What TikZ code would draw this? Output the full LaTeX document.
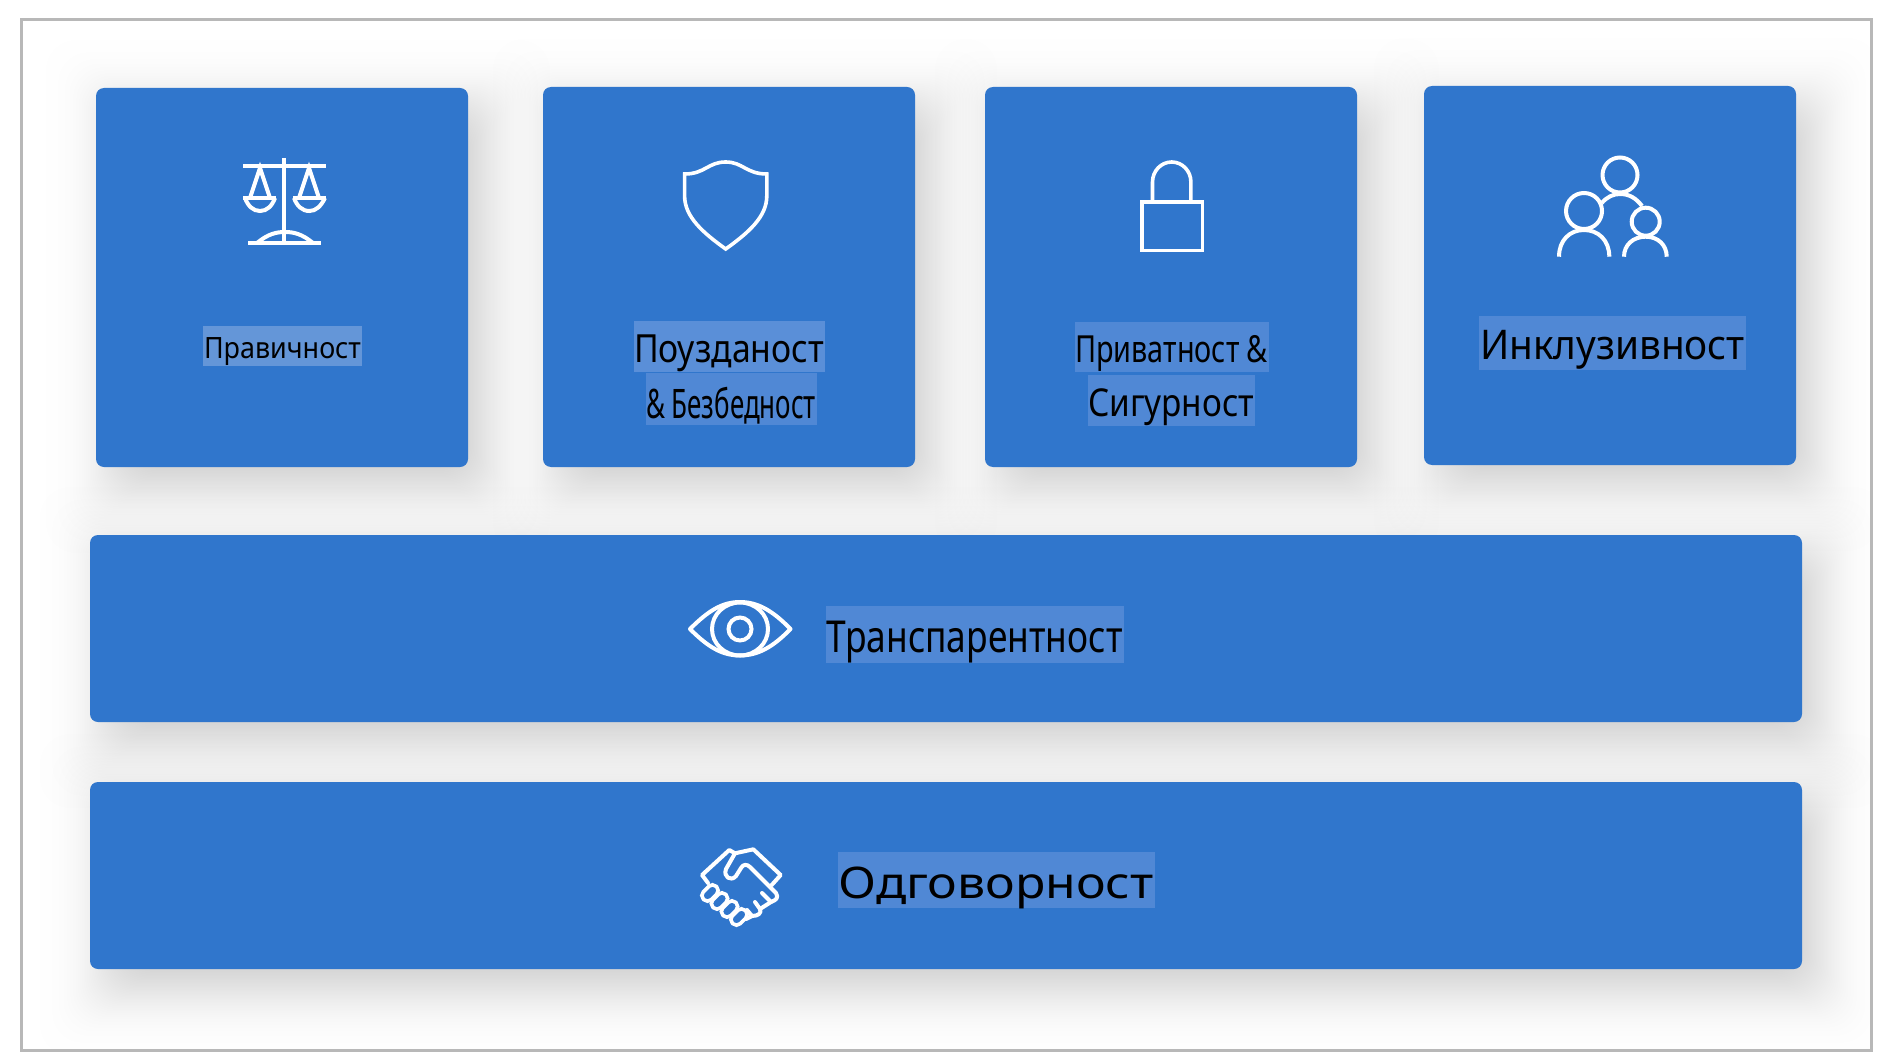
\documentclass[tikz,border=0pt]{standalone}
\usepackage{fontspec}
\usepackage{graphicx}
\setmainfont{Noto Sans}
\newdimen\pxu \pxu=0.02cm
\definecolor{cardblue}{HTML}{3076CC}
\definecolor{frameg}{HTML}{B8B8B8}
\definecolor{hlA}{HTML}{6496D8}
\definecolor{hlB}{HTML}{5A8FD8}
\definecolor{hlC}{HTML}{5088D5}
\tikzset{
  cardbox/.style={fill=cardblue,draw=none,rounded corners=8\pxu,inner sep=0pt},
  icon/.style={draw=white,line width=4\pxu,fill=none,line cap=butt,line join=miter},
  iconthin/.style={icon,line width=3.6\pxu},
  iconround/.style={icon,line join=round,line cap=round},
  labeltext/.style={inner sep=0pt,text=black},
}
% soft shadow: stacked translucent rounded rectangles at Gaussian quantiles
\newcommand{\softshadow}[4]{%
  \foreach \e in {66,53.6,47,42.4,38.7,35.6,32.8,30.4,28.1,26,24.1,22.3,20.6,18.9,17.3,15.7,14.2,12.8,11.3,10,8.6,7.2,5.9,4.6,3.2,2,.6,
                  -.6,-2,-3.2,-4.6,-5.9,-7.2,-8.6,-10,-11.3,-12.8,-14.2,-15.7,-17.3,-18.9,-20.6,-22.3,-24.1,-26,-28.1,-30.4,-32.8,-35.6,-38.7,-42.4,-47,-53.6,-66}{%
    \fill[black,opacity=.0055,rounded corners=30\pxu]
      ({#1+16-\e},{#2+18-\e}) rectangle ({#3+16+\e},{#4+20+\e});
  }%
}
\newcommand{\cardat}[5]{%
  \node[cardbox,minimum width=#4\pxu,minimum height=#5\pxu] (#1) at (#2,#3) {};
}
\newcommand{\hltext}[7]{%
  \fill[#2] #3 rectangle #4;
  \node[labeltext] (#1) at #5 {\resizebox*{#6\pxu}{#7\pxu}{\labeltxt}};
}
\begin{document}
\begin{tikzpicture}[x=0.02cm,y=-0.02cm]
\useasboundingbox (0,0) rectangle (1892,1064);
\fill[white] (0,0) rectangle (1892,1064);

\begin{scope}
\clip (21,20) rectangle (1871.5,1050.5);
\softshadow{96}{88}{468}{467}
\softshadow{543}{87}{915}{467}
\softshadow{985}{87}{1357}{467}
\softshadow{1424}{86}{1796}{465}
\softshadow{90}{535}{1802}{722}
\softshadow{90}{782}{1802}{969}
\end{scope}

\draw[frameg,line width=3\pxu] (21,20) rectangle (1871.5,1050.5);

\cardat{fair}{282}{277.5}{372}{379}
\cardat{safe}{729}{277}{372}{380}
\cardat{priv}{1171}{277}{372}{380}
\cardat{incl}{1610}{275.5}{372}{379}
\cardat{trans}{946}{628.5}{1712}{187}
\cardat{acct}{946}{875.5}{1712}{187}

% labels
\def\labeltxt{Правичност}
\hltext{tfair}{hlA}{(203,326)}{(362,366)}{(282.5,351.5)}{157}{28}
\def\labeltxt{Поузданост}
\hltext{tsafe}{hlB}{(633.5,321)}{(825,372)}{(729,353)}{190}{37}
\def\labeltxt{\& Безбедност}
\hltext{tsec}{hlC}{(646,373)}{(817,425)}{(731,405.5)}{170}{37}
\def\labeltxt{Приватност \&}
\hltext{tpriv}{hlC}{(1075,322)}{(1269,372)}{(1171.5,353)}{193}{36}
\def\labeltxt{Сигурност}
\hltext{tsig}{hlC}{(1088,375)}{(1255,426)}{(1171,407.5)}{166}{37}
\def\labeltxt{Инклузивност}
\hltext{tincl}{hlC}{(1479,316)}{(1746,370)}{(1612.5,350)}{265}{39}
\def\labeltxt{Транспарентност}
\hltext{ttrans}{hlC}{(826,606)}{(1124,663)}{(974.5,642)}{296}{42}
\def\labeltxt{Одговорност}
\hltext{tacct}{hlC}{(838,852)}{(1155,908)}{(996,887.5)}{315}{42}

% scales
\draw[icon] (243,166) -- (326,166);
\draw[icon] (284.3,158) -- (284.3,243);
\draw[icon] (248,243) -- (321,243);
\draw[icon] (257,243) .. controls (268,234) and (276,232) .. (285,232) .. controls (294,232) and (302,234) .. (313,243);
\draw[icon] (243,198) -- (276,198);
\draw[icon] (293,198) -- (326,198);
\draw[icon] (250,198) -- (260,168) -- (270,198);
\draw[icon] (299,198) -- (309,168) -- (319,198);
\draw[icon] (245,198) .. controls (248,206) and (253,211) .. (260,211) .. controls (267,211) and (272,206) .. (275,198);
\draw[icon] (294,198) .. controls (297,206) and (302,211) .. (309.5,211) .. controls (316,211) and (321,206) .. (325,198);

% shield
\draw[iconthin,line join=miter] (684.6,174) .. controls (705,174) and (708,162) .. (725.7,162) .. controls (743,162) and (746,174) .. (766.8,174) -- (766.8,196) .. controls (766.8,217) and (748,233) .. (725.7,249) .. controls (703.4,233) and (684.6,217) .. (684.6,196) -- cycle;

% lock
\draw[iconthin] (1142,202) rectangle (1202.5,250.5);
\draw[iconthin] (1152.5,202) -- (1152.5,182) arc[start angle=180,end angle=0,x radius=19.2,y radius=-20] -- (1190.9,202);

% people
\draw[icon] (1620,175) circle[radius=17.5];
\draw[icon] (1584,211) circle[radius=18];
\draw[icon] (1645.7,221.7) circle[radius=14];
\draw[icon] (1559,256.7) .. controls (1559,240) and (1570,230) .. (1584,230) .. controls (1598,230) and (1609.3,240) .. (1609.3,256.7);
\draw[icon] (1624,256.7) .. controls (1624,245) and (1633,236.7) .. (1645.7,236.7) .. controls (1658,236.7) and (1666.7,245) .. (1666.7,256.7);
\draw[icon] (1601.7,203) .. controls (1607,197) and (1613,194) .. (1620,194) .. controls (1629,194) and (1636,198) .. (1642,206);

% eye
\draw[iconround] (690,629) .. controls (708,611) and (722,602) .. (740,602) .. controls (758,602) and (773,611) .. (790.5,629) .. controls (773,647) and (758,655.5) .. (740,655.5) .. controls (722,655.5) and (708,647) .. cycle;
\draw[icon] (740,629) ellipse[x radius=28,y radius=26.5];
\draw[icon] (740,629) circle[radius=11.5];

% handshake
\draw[iconround] (708,883) -- (702,875) -- (729.3,850) -- (735,853.3) -- (753.3,849.3) -- (780.7,875) -- (771.7,885);
\draw[iconround] (735,853.3) -- (726,869) .. controls (723,877) and (731,882) .. (736,876) -- (741,868) .. controls (743,864) and (747,864) .. (750,867) -- (776,893) .. controls (779,898) and (776,900) .. (771,902) -- (760,909);
\draw[iconround] (771,902) -- (762,893);
\draw[iconround] (760,909) -- (755,902);
\draw[iconround] (760,909) .. controls (762,913) and (758,916) .. (752,916) -- (746,919);
\draw[iconround] (752,916) -- (747,910);
\foreach \cx/\cy in {710/893,719.5/901,729.5/909,739/917}{
  \draw[iconthin,rounded corners=5\pxu,rotate around={45:(\cx,\cy)}] ({\cx-9},{\cy-5.5}) rectangle ({\cx+9},{\cy+5.5});
}
\end{tikzpicture}
\end{document}
